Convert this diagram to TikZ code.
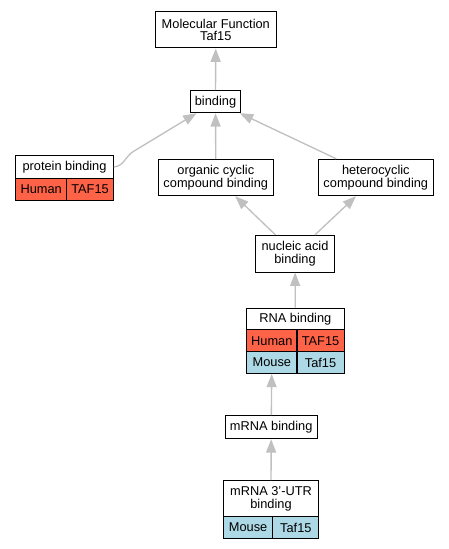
\documentclass[tikz,border=0pt]{standalone}
\usepackage{fontspec}
\setmainfont{Liberation Sans}
\usetikzlibrary{arrows.meta}
\definecolor{humancol}{RGB}{255,99,71}
\definecolor{mousecol}{RGB}{173,216,230}
\definecolor{edgecol}{RGB}{192,192,192}

\begin{document}
\begin{tikzpicture}[x=0.75pt,y=-0.75pt,
  term/.style={draw=black, line width=0.75pt, fill=white, inner sep=0pt, align=center,
    font=\fontsize{9.6pt}{9.6pt}\selectfont},
  hum/.style={term, fill=humancol},
  mou/.style={term, fill=mousecol},
  edge/.style={draw=edgecol, line width=1pt, -{Triangle[width=7.5pt,length=10pt]}}]
\useasboundingbox (0,0) rectangle (449,549);
% terms
\node[term, minimum width=90.75pt, minimum height=27pt] (mf) at (215.8,30) {Molecular Function\\Taf15};
\node[term, minimum width=38pt, minimum height=16.5pt] (bind) at (215.5,101.7) {binding};
\node[term, minimum width=73.2pt, minimum height=17.55pt] (prot) at (64.5,167) {protein binding};
\node[hum, minimum width=38.25pt, minimum height=16pt] (prot-h) at (41.2,189.35) {Human};
\node[hum, minimum width=35pt, minimum height=16pt] (prot-t) at (90,189.35) {TAF15};
\node[term, minimum width=86.25pt, minimum height=27.3pt] (orgc) at (215.8,177.5) {organic cyclic\\compound binding};
\node[term, minimum width=86.25pt, minimum height=27.3pt] (hetc) at (375.8,177.5) {heterocyclic\\compound binding};
\node[term, minimum width=59.5pt, minimum height=27.5pt] (nucl) at (295,253.7) {nucleic acid\\binding};
\node[term, minimum width=73pt, minimum height=16.5pt] (rna) at (295.35,319) {RNA binding};
\node[hum, minimum width=37.7pt, minimum height=16.3pt] (rna-h) at (271.85,340.85) {Human};
\node[hum, minimum width=35.25pt, minimum height=16.3pt] (rna-t) at (320.5,340.85) {TAF15};
\node[mou, minimum width=37.7pt, minimum height=16.3pt] (rna-m) at (271.85,362.5) {Mouse};
\node[mou, minimum width=35.25pt, minimum height=16.3pt] (rna-mt) at (320.5,362.5) {Taf15};
\node[term, minimum width=69.2pt, minimum height=17.25pt] (mrna) at (271.2,427.2) {mRNA binding};
\node[term, minimum width=71.55pt, minimum height=27pt] (utr) at (271,498.7) {mRNA 3'-UTR\\binding};
\node[mou, minimum width=37.3pt, minimum height=16.2pt] (utr-m) at (248.15,527.5) {Mouse};
\node[mou, minimum width=34.3pt, minimum height=16.2pt] (utr-t) at (295.85,527.5) {Taf15};
% is_a edges
\coordinate (pbend) at (133,151.7);
\draw[edge] (bind) -- (mf);
\draw[edge] (orgc) -- (bind);
\draw[edge] (hetc) -- (bind);
\path[draw=edgecol, line width=1pt] (prot.east) .. controls (124,166) and (125,157) .. (pbend);
\draw[edge] (pbend) -- (bind);
\draw[edge] (nucl) -- (orgc);
\draw[edge] (nucl) -- (hetc);
\draw[edge] (rna) -- (nucl);
\draw[edge] (mrna) -- (rna-m);
\draw[edge] (utr) -- (mrna);
\end{tikzpicture}
\end{document}
